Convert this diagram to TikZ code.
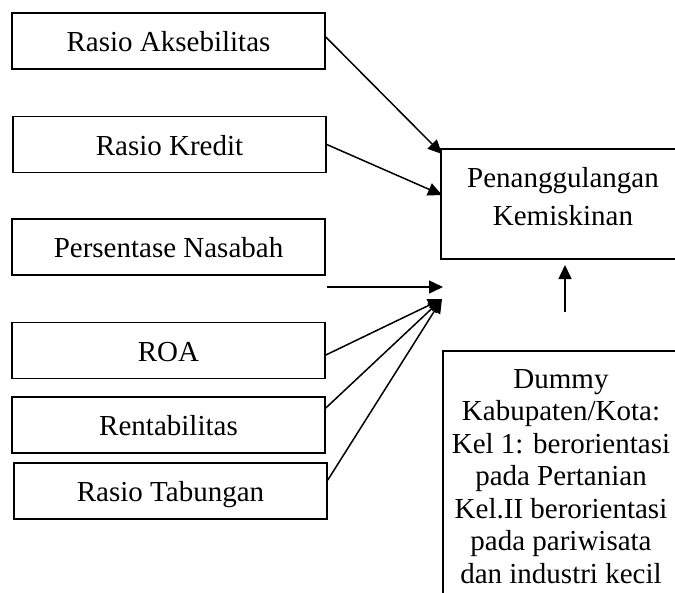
\documentclass[tikz,border=0pt]{standalone}
\usepackage{fontspec}
\setmainfont{Liberation Serif}
\usetikzlibrary{arrows.meta}
\begin{document}
\begin{tikzpicture}[x=1pt,y=-1pt,
  every node/.style={font=\fontsize{29}{31}\selectfont},
  varbox/.style={draw, line width=1.6pt, minimum width=313pt, minimum height=56pt,
    inner sep=0pt, text height=21pt, text depth=0pt},
  bigbox/.style={draw, line width=1.6pt, inner sep=0pt},
  txt/.style={align=center, inner sep=0pt},
  conn/.style={line width=1.5pt, -{Triangle[length=14pt,width=13pt]}}]
\useasboundingbox (0,0) rectangle (675,592);
\clip (0,0) rectangle (675,592);
% left variable boxes
\node[varbox] (b1) at (168.5,41) {Rasio Aksebilitas};
\node[varbox] (b2) at (169.5,144.5) {Rasio Kredit};
\node[varbox] (b3) at (168.5,247) {Persentase Nasabah};
\node[varbox] (b4) at (168.5,350.5) {ROA};
\node[varbox] (b5) at (168.5,425) {Rentabilitas};
\node[varbox] (b6) at (170.5,491) {Rasio Tabungan};
% target box (right side runs off the picture)
\node[bigbox, minimum width=244pt, minimum height=110pt] (pk) at (563,204) {};
\node[txt, font=\fontsize{29}{38}\selectfont] (pkt) at (563,197) {Penanggulangan\\Kemiskinan};
% dummy box (right and bottom run off the picture)
\node[bigbox, minimum width=236pt, minimum height=269pt] (dm) at (561,485.5) {};
\node[txt, anchor=north, font=\fontsize{29}{32.5}\selectfont] (dmt) at (561,369) {Dummy\\Kabupaten/Kota:\\Kel 1: berorientasi\\pada Pertanian\\Kel.II berorientasi\\pada pariwisata\\dan industri kecil};
% arrow end points
\coordinate (t1) at (442,154);
\coordinate (t2) at (442,195);
\coordinate (s3) at (327,287);
\coordinate (t3) at (443,287);
\coordinate (t4) at (442,299);
\coordinate (s7) at (565,312);
\coordinate (t7) at (565,265);
% connectors
\draw[conn] ([yshift=4pt]b1.east) -- (t1);
\draw[conn] (b2.east) -- (t2);
\draw[conn] (s3) -- (t3);
\draw[conn] ([yshift=-4.5pt]b4.east) -- (t4);
\draw[conn] ([yshift=17pt]b5.east) -- (t4);
\draw[conn] ([yshift=11pt]b6.east) -- (t4);
\draw[conn] (s7) -- (t7);
\end{tikzpicture}
\end{document}
